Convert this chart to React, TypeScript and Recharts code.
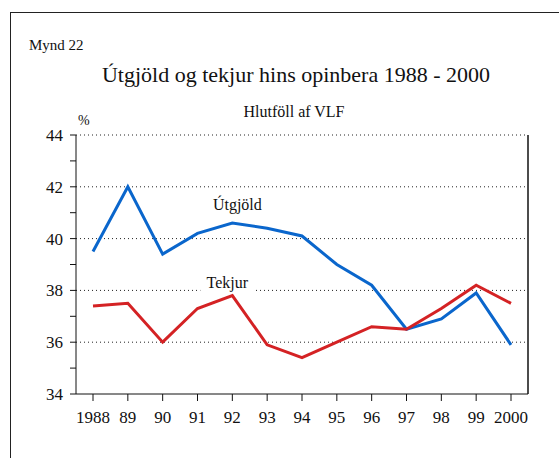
import React from "react";
import { LineChart, Line, XAxis, YAxis, ReferenceLine, ReferenceDot } from "recharts";

const years = ["1988", "89", "90", "91", "92", "93", "94", "95", "96", "97", "98", "99", "2000"];
const utgjold = [39.5, 42.0, 39.4, 40.2, 40.6, 40.4, 40.1, 39.0, 38.2, 36.5, 36.9, 37.9, 35.9];
const tekjur = [37.4, 37.5, 36.0, 37.3, 37.8, 35.9, 35.4, 36.0, 36.6, 36.5, 37.3, 38.2, 37.5];
const yTicks = [34, 35, 36, 37, 38, 39, 40, 41, 42, 43, 44];
const gridValues = [36, 38, 40, 42, 44];

const data = years.map((y, i) => ({ year: y, utgjold: utgjold[i], tekjur: tekjur[i] }));

const FONT = "Liberation Serif";
const BLUE = "#0a66cc";
const RED = "#d42224";

function SeriesLabel({ cx, cy, text, dx, gap }: any) {
  return (
    <g>
      {gap && <rect x={cx + dx - 27} y={cy - 12} width={54} height={16} fill="#fff" />}
      <text x={cx + dx} y={cy} textAnchor="middle" style={{ fontFamily: FONT }} fontSize={16} fill="#111">
        {text}
      </text>
    </g>
  );
}

export default function App() {
  return (
    <div style={{ position: "absolute", left: 0, top: 0, width: 559, height: 458, background: "#fff", overflow: "hidden", fontFamily: FONT }}>
      <div style={{ position: "absolute", left: 10, top: 12, width: 560, height: 460, borderTop: "1.5px solid #222", borderLeft: "1.5px solid #222" }} />
      <LineChart width={559} height={458} data={data} margin={{ top: 135, right: 30, bottom: 24, left: 0 }}>
        {gridValues.map((v) => (
          <ReferenceLine key={v} y={v} stroke="#222" strokeDasharray="1 3" strokeWidth={1} />
        ))}
        <XAxis
          dataKey="year"
          padding={{ left: 17, right: 17 }}
          height={40}
          tickSize={7}
          tickMargin={10}
          axisLine={{ stroke: "#111" }}
          tickLine={{ stroke: "#111" }}
          tick={{ fontFamily: FONT, fontSize: 17, fill: "#111" }}
          interval={0}
        />
        <YAxis
          width={76}
          domain={[34, 44]}
          ticks={yTicks}
          interval={0}
          tickSize={6}
          tickMargin={7}
          tickFormatter={(v: number) => (v % 2 === 0 ? String(v) : "")}
          axisLine={{ stroke: "#111" }}
          tickLine={{ stroke: "#111" }}
          tick={{ fontFamily: FONT, fontSize: 17, fill: "#111" }}
        />
        <YAxis yAxisId="r" orientation="right" width={1} domain={[34, 44]} tick={false} tickLine={false} axisLine={{ stroke: "#111", strokeWidth: 1.5 }} />
        <ReferenceDot
          x="92"
          y={38.1}
          r={0}
          shape={(p: any) => <SeriesLabel cx={p.cx} cy={p.cy} text="Tekjur" dx={-5} gap />}
        />
        <ReferenceDot
          x="92"
          y={41.1}
          r={0}
          shape={(p: any) => <SeriesLabel cx={p.cx} cy={p.cy} text="Útgjöld" dx={5} />}
        />
        <Line dataKey="utgjold" stroke={BLUE} strokeWidth={3} dot={false} isAnimationActive={false} />
        <Line dataKey="tekjur" stroke={RED} strokeWidth={3} dot={false} isAnimationActive={false} />
      </LineChart>
      <svg width={559} height={458} style={{ position: "absolute", left: 0, top: 0, pointerEvents: "none", fontFamily: FONT }}>
        <text x={29} y={50} fontSize={15} fill="#111">Mynd 22</text>
        <text x={296} y={82} textAnchor="middle" fontSize={22} fill="#111">
          Útgjöld og tekjur hins opinbera 1988 - 2000
        </text>
        <text x={294} y={117} textAnchor="middle" fontSize={16} fill="#111">Hlutföll af VLF</text>
        <text x={78} y={125} fontSize={14} fill="#111">%</text>
      </svg>
    </div>
  );
}
